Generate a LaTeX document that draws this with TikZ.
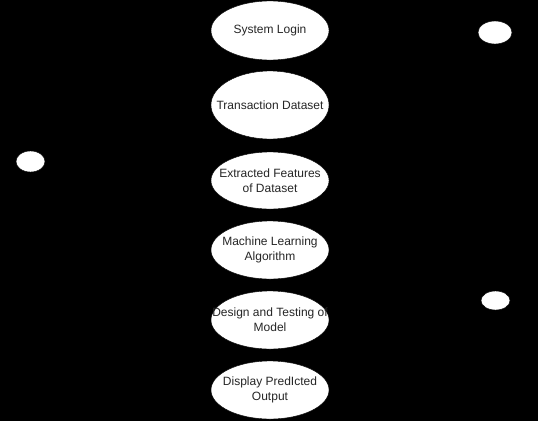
\documentclass[tikz,border=0pt]{standalone}
\usepackage{fontspec}
\setmainfont{Liberation Sans}
\usetikzlibrary{shapes.geometric}
\begin{document}
\begin{tikzpicture}[x=1pt,y=-1pt,
  usecase/.style={ellipse,fill=white,draw=black,minimum width=118pt,minimum height=59pt,inner sep=0pt},
  uctext/.style={align=center,font=\fontsize{12}{15}\selectfont,text=black!85,inner sep=0pt},
  head/.style={ellipse,fill=white,draw=black,inner sep=0pt}]
\fill[black] (0,0) rectangle (538,421);
\useasboundingbox (0,0) rectangle (538,421);
\node[usecase] (login) at (270,30.5) {};
\node[usecase,minimum height=68pt] (trans) at (270,105) {};
\node[usecase,minimum height=57pt] (feat) at (270,180.5) {};
\node[usecase,minimum height=58pt] (ml) at (270,250) {};
\node[usecase,minimum height=58pt] (design) at (270,320) {};
\node[usecase,minimum height=58pt] (disp) at (270,390) {};
\node[uctext] (logint) at (login.center) {System Login};
\node[uctext] (transt) at (trans.center) {Transaction Dataset};
\node[uctext] (featt) at (feat.center) {Extracted Features\\of Dataset};
\node[uctext] (mlt) at (ml.center) {Machine Learning\\Algorithm};
\node[uctext] (designt) at (design.center) {Design and Testing of\\Model};
\node[uctext] (dispt) at (disp.center) {Display PredIcted\\Output};
\node[head,minimum width=29pt,minimum height=21pt] (userhead) at (30.5,161.5) {};
\node[head,minimum width=34pt,minimum height=23pt] (adminhead) at (495,32.5) {};
\node[head,minimum width=29pt,minimum height=19pt] (syshead) at (495.5,300.5) {};
\end{tikzpicture}
\end{document}
